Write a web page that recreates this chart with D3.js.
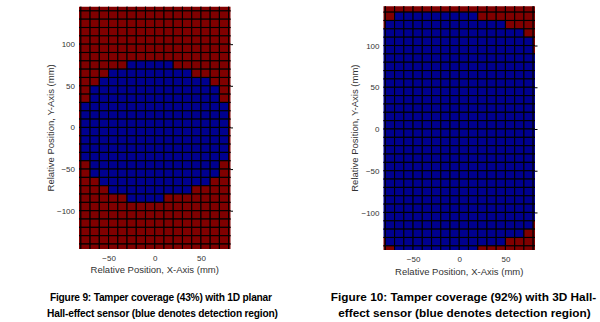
<!DOCTYPE html>
<html><head><meta charset="utf-8">
<script src="https://cdn.jsdelivr.net/npm/d3@7"></script>
<style>
html,body{margin:0;padding:0;background:#fff;}
svg{display:block;}
</style></head>
<body>
<svg id="c" width="600" height="322"></svg>
<script>
// ---- data ----
// cell centres (mm); cells are 10 mm wide, partially clipped at the axis limits
const xCenters = [-85,-75,-65,-55,-45,-35,-25,-15,-5,5,15,25,35,45,55,65,75,85];
const yCenters = [145,135,125,115,105,95,85,75,65,55,45,35,25,15,5,-5,-15,-25,-35,-45,-55,-65,-75,-85,-95,-105,-115,-125,-135,-145];
const xTicks = [-50, 0, 50];
const yTicks = [-100, -50, 0, 50, 100];
// 1 = detected (blue), 0 = not detected (red); rows from top (y=145) to bottom (y=-145)
const fig9Grid = [
"000000000000000000",
"000000000000000000",
"000000000000000000",
"000000000000000000",
"000000000000000000",
"000000000000000000",
"000000000000000000",
"000000111110000000",
"000011111111100000",
"000111111111111000",
"001111111111111100",
"001111111111111100",
"011111111111111110",
"011111111111111110",
"011111111111111110",
"011111111111111110",
"011111111111111110",
"011111111111111110",
"011111111111111110",
"001111111111111100",
"001111111111111100",
"000111111111111000",
"000011111111100000",
"000000111100000000",
"000000000000000000",
"000000000000000000",
"000000000000000000",
"000000000000000000",
"000000000000000000",
"000000000000000000"
];
const fig10Grid = [
"000000000000000000",
"001111111110000000",
"011111111111110000",
"111111111111111100",
"111111111111111110",
"111111111111111110",
"111111111111111111",
"111111111111111111",
"111111111111111111",
"111111111111111111",
"111111111111111111",
"111111111111111111",
"111111111111111111",
"111111111111111111",
"111111111111111111",
"111111111111111111",
"111111111111111111",
"111111111111111111",
"111111111111111111",
"111111111111111111",
"111111111111111111",
"111111111111111111",
"111111111111111111",
"111111111111111111",
"111111111111111111",
"111111111111111111",
"111111111111111110",
"111111111111111100",
"011111111111110000",
"001111111110000000"
];
const xLabel = "Relative Position, X-Axis (mm)";
const yLabel = "Relative Position, Y-Axis (mm)";
const fig9Caption = ["Figure 9: Tamper coverage (43%) with 1D planar", "Hall-effect sensor (blue denotes detection region)"];
const fig10Caption = ["Figure 10: Tamper coverage (92%) with 3D Hall-", "effect sensor (blue denotes detection region)"];

// ---- drawing ----
const RED = "#800000", BLUE = "#00008f";
const FONT = "'Liberation Sans', Arial, Helvetica, sans-serif";
const svg = d3.select("#c");

const panels = [
  {id:"p9", grid:fig9Grid, caption:fig9Caption, xDomain:[-82,82], xRange:[79,230.5], yDomain:[-146,145], yRange:[249,6.7],
   yLabelX:54, xLabelY:273, capX:[161,162.5], capY:[301,317], capSize:10.2, capLen:[222,231]},
  {id:"p10", grid:fig10Grid, caption:fig10Caption, xDomain:[-82,82], xRange:[383.5,535], yDomain:[-145,147], yRange:[250,6.3],
   yLabelX:358, xLabelY:274.5, capX:[463.5,464.5], capY:[301,317], capSize:11.8, capLen:null}
];

panels.forEach(p => {
  const x = d3.scaleLinear().domain(p.xDomain).range(p.xRange);
  const y = d3.scaleLinear().domain(p.yDomain).range(p.yRange);
  const g = svg.append("g");
  const clipId = "clip-" + p.id;
  g.append("clipPath").attr("id", clipId).append("rect")
    .attr("x", x(p.xDomain[0])).attr("y", y(p.yDomain[1]))
    .attr("width", x(p.xDomain[1]) - x(p.xDomain[0]))
    .attr("height", y(p.yDomain[0]) - y(p.yDomain[1]));

  const cells = [];
  p.grid.forEach((row, ri) => {
    row.split("").forEach((v, ci) => {
      cells.push({xc: xCenters[ci], yc: yCenters[ri], v: +v});
    });
  });
  g.append("g").attr("clip-path", `url(#${clipId})`)
    .selectAll("rect").data(cells).join("rect")
    .attr("x", d => x(d.xc - 5))
    .attr("y", d => y(d.yc + 5))
    .attr("width", d => x(d.xc + 5) - x(d.xc - 5))
    .attr("height", d => y(d.yc - 5) - y(d.yc + 5))
    .attr("fill", d => d.v ? BLUE : RED)
    .attr("stroke", "#000")
    .attr("stroke-width", 1.1);

  // y axis labels (left)
  const ya = g.append("g").attr("transform", `translate(${p.xRange[0]},0)`)
    .call(d3.axisLeft(y).tickValues(yTicks).tickSize(0).tickPadding(4));
  ya.select(".domain").remove();
  ya.selectAll("text").attr("font-family", FONT).attr("font-size", 8).attr("fill", "#333");
  // small tick marks on right side
  const yr = g.append("g").attr("transform", `translate(${p.xRange[1]},0)`)
    .call(d3.axisRight(y).tickValues(yTicks).tickSize(2.5).tickFormat(""));
  yr.select(".domain").remove();
  yr.selectAll("line").attr("stroke", "#000");

  // x axis labels (bottom)
  const xa = g.append("g").attr("transform", `translate(0,${p.yRange[0]})`)
    .call(d3.axisBottom(x).tickValues(xTicks).tickSize(0).tickPadding(6));
  xa.select(".domain").remove();
  xa.selectAll("text").attr("font-family", FONT).attr("font-size", 8).attr("fill", "#333");

  // axis titles
  const cx = (p.xRange[0] + p.xRange[1]) / 2;
  g.append("text").attr("x", cx).attr("y", p.xLabelY)
    .attr("text-anchor", "middle").attr("font-family", FONT).attr("font-size", 9.5).attr("fill", "#333")
    .text(xLabel);
  const cy = (p.yRange[0] + p.yRange[1]) / 2;
  g.append("text").attr("transform", `translate(${p.yLabelX},${cy}) rotate(-90)`)
    .attr("text-anchor", "middle").attr("font-family", FONT).attr("font-size", 9.5).attr("fill", "#333")
    .text(yLabel);

  // caption
  p.caption.forEach((line, i) => {
    const t = g.append("text").attr("x", p.capX[i]).attr("y", p.capY[i])
      .attr("text-anchor", "middle").attr("font-family", FONT).attr("font-weight", "bold")
      .attr("font-size", p.capSize).attr("fill", "#000").text(line);
    if (p.capLen) t.attr("textLength", p.capLen[i]).attr("lengthAdjust", "spacing");
  });
});
</script>
</body></html>
